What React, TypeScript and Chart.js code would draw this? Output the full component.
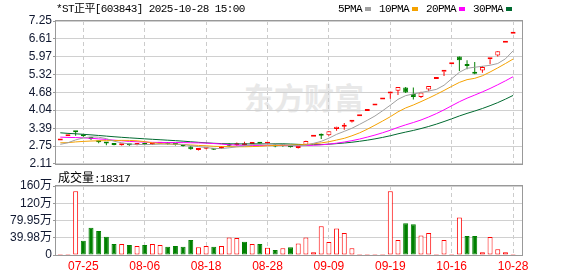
import React, { useEffect, useRef } from "react";
import Chart from "chart.js/auto";

// ---------- data ----------
const dates = ["07-22","07-23","07-24","07-25","07-28","07-29","07-30","07-31","08-01","08-04","08-05","08-06","08-07","08-08","08-11","08-12","08-13","08-14","08-15","08-18","08-19","08-20","08-21","08-22","08-25","08-26","08-27","08-28","08-29","09-01","09-02","09-03","09-04","09-05","09-08","09-09","09-10","09-11","09-12","09-15","09-16","09-17","09-18","09-19","09-22","09-23","09-24","09-25","09-26","09-29","09-30","10-16","10-17","10-20","10-21","10-22","10-23","10-24","10-27","10-28"];

const opens = [2.95,3.10,3.26,3.12,3.03,2.90,2.85,2.81,2.78,2.80,2.79,2.82,2.80,2.83,2.85,2.82,2.77,2.73,2.61,2.65,2.65,2.66,2.81,2.78,2.78,2.82,2.86,2.83,2.80,2.79,2.75,2.68,2.80,3.08,3.15,3.14,3.36,3.44,3.62,3.82,4.01,4.21,4.42,4.64,4.74,4.86,4.62,4.51,4.78,5.16,5.42,5.69,5.97,5.66,5.39,5.47,5.87,6.01,6.47,6.79];
const highs = [2.95,3.10,3.26,3.14,3.05,2.94,2.88,2.84,2.82,2.81,2.84,2.83,2.85,2.88,2.86,2.83,2.78,2.74,2.66,2.68,2.66,2.75,2.86,2.88,2.90,2.88,2.87,2.86,2.81,2.80,2.76,2.76,2.94,3.08,3.20,3.28,3.44,3.58,3.64,3.82,4.01,4.21,4.42,4.64,4.87,4.87,4.86,4.70,4.91,5.16,5.42,5.69,5.97,5.84,5.77,5.63,5.87,6.16,6.47,6.79];
const lows = [2.95,3.10,3.12,3.08,2.97,2.85,2.78,2.78,2.77,2.76,2.78,2.78,2.79,2.82,2.80,2.77,2.73,2.62,2.59,2.63,2.61,2.64,2.72,2.76,2.77,2.81,2.81,2.81,2.71,2.72,2.70,2.66,2.79,3.08,3.00,3.12,3.30,3.34,3.60,3.82,4.01,4.21,4.42,4.45,4.59,4.66,4.42,4.48,4.72,5.16,5.27,5.69,5.45,5.51,5.33,5.39,5.69,5.97,6.47,6.79];
const closes = [2.95,3.10,3.25,3.10,3.00,2.89,2.84,2.79,2.81,2.78,2.82,2.80,2.83,2.85,2.82,2.79,2.74,2.63,2.65,2.67,2.62,2.73,2.76,2.83,2.81,2.86,2.83,2.85,2.73,2.76,2.71,2.75,2.93,3.08,3.12,3.28,3.44,3.47,3.64,3.82,4.01,4.21,4.42,4.64,4.87,4.68,4.51,4.68,4.91,5.16,5.42,5.69,5.84,5.63,5.35,5.59,5.87,6.16,6.47,6.79];
// volume in 万 (10k shares)
const volumes = [1.5,1.5,147.7,33,63,55.4,42.3,25.4,25.4,23,20.8,23,25.4,23,19.2,20.8,19.2,34.6,17.7,20.8,19.2,20.8,40.8,39.2,30.8,25.4,25.4,16.9,11.5,15.4,17.7,26.9,40.8,6.2,66.9,30,61.5,50.8,15.4,1.5,1.5,1.5,1.5,147.7,34.6,73.8,71.5,45.4,50.8,1.5,34.6,1.5,86.9,43.8,43.8,6.2,41.5,13.1,6.2,1.83];
// closes of the 29 sessions before the window (needed for the moving averages)
const priorCloses = [3.72,3.70,3.65,3.60,3.56,3.52,3.48,3.42,3.35,3.36,3.34,3.33,3.32,3.31,3.30,3.28,3.27,3.25,3.23,3.12,3.05,2.98,2.92,2.86,2.80,2.80,2.75,2.74,2.81];

const priceTicks = [2.11, 2.75, 3.39, 4.04, 4.68, 5.32, 5.97, 6.61, 7.25];
const volumeTicks = [0, 39.98, 79.95, 119.93, 159.9];
const volumeTickLabels = ["0", "39.98万", "79.95万", "120万", "160万"];
const maPeriods = [5, 10, 20, 30];
const maNames = ["5PMA", "10PMA", "20PMA", "30PMA"];
const titleText = "*ST正平[603843] 2025-10-28 15:00";
const volumeTitle = "成交量";
const lastVolume = "18317";
const watermark = "东方财富";

// ---------- styles ----------
const RED = "#ff0000";
const GREEN = "#008000";
const maColors = ["#a0a0a0", "#f5a200", "#ff00ff", "#006a30"];
const X_MIN = 0.44;
const X_MAX = 61.16;
const AXIS_FONT = { family: '"Liberation Sans", Arial, "Noto Sans CJK SC", sans-serif', size: 12 };
const MONO = '"Liberation Mono", "DejaVu Sans Mono", "Noto Sans CJK SC", monospace';

function movingAverage(n: number): number[] {
  const all = priorCloses.concat(closes);
  const off = priorCloses.length;
  return closes.map((_, i) => {
    let s = 0;
    for (let k = off + i - n + 1; k <= off + i; k++) s += all[k];
    return s / n;
  });
}

const framePlugin = {
  id: "frame",
  afterDatasetsDraw(chart: any) {
    const { ctx, chartArea: a } = chart;
    ctx.save();
    ctx.strokeStyle = "#999999";
    ctx.lineWidth = 1;
    ctx.strokeRect(
      Math.round(a.left) - 0.5,
      Math.round(a.top) - 0.5,
      Math.round(a.right - a.left) + 1,
      Math.round(a.bottom - a.top) + 1
    );
    ctx.restore();
  },
};

function xScale(showLabels: boolean) {
  const labelIdx = dates.map((_, i) => i).filter((i) => i % 8 === 3);
  return {
    type: "linear",
    min: X_MIN,
    max: X_MAX,
    offset: false,
    afterBuildTicks: (axis: any) => {
      axis.ticks = labelIdx.map((i) => ({ value: i + 1 }));
    },
    afterFit: (axis: any) => {
      axis.height = showLabels ? 21 : 0;
    },
    ticks: {
      display: showLabels,
      autoSkip: false,
      maxRotation: 0,
      padding: 4,
      color: RED,
      font: AXIS_FONT,
      callback: (v: any) => dates[Number(v) - 1],
    },
    grid: { color: "#cccccc", lineWidth: 1, drawTicks: false, offset: false },
    border: { display: false, dash: [4, 3] },
  };
}

export default function App() {
  const priceRef = useRef<HTMLCanvasElement>(null);
  const volRef = useRef<HTMLCanvasElement>(null);

  useEffect(() => {
    const prevClose = (i: number) => (i ? closes[i - 1] : priorCloses[priorCloses.length - 1]);
    const candleUp = closes.map((c, i) => c > opens[i] || (c === opens[i] && c >= prevClose(i)));
    const volUp = closes.map((c, i) => c >= prevClose(i));

    const priceChart = new Chart(priceRef.current as HTMLCanvasElement, {
      type: "bar",
      data: {
        datasets: [
          ...maPeriods.map((n, k) => ({
            type: "line",
            label: maNames[k],
            data: movingAverage(n).map((v, i) => ({ x: i + 1, y: v })),
            borderColor: maColors[k],
            borderWidth: 1,
            pointRadius: 0,
            tension: 0,
            order: 1,
          })),
          {
            type: "bar",
            label: "K",
            data: closes.map((c, i) => ({ x: i + 1, y: [opens[i], c] })),
            backgroundColor: candleUp.map((u) => (u ? "#ffffff" : GREEN)),
            borderColor: candleUp.map((u) => (u ? RED : GREEN)),
            borderWidth: 1,
            borderSkipped: false,
            barThickness: 5,
            minBarLength: 2,
            grouped: false,
            inflateAmount: 0,
            order: 2,
          },
          {
            type: "bar",
            label: "wick",
            data: closes.map((_, i) => ({ x: i + 1, y: [lows[i], highs[i]] })),
            backgroundColor: candleUp.map((u) => (u ? RED : GREEN)),
            borderWidth: 0,
            barThickness: 1,
            grouped: false,
            inflateAmount: 0,
            order: 3,
          },
        ] as any,
      },
      options: {
        animation: false,
        responsive: false,
        devicePixelRatio: 1,
        events: [],
        layout: { padding: { left: 0, right: 56, top: 21, bottom: 7 } },
        plugins: { legend: { display: false }, tooltip: { enabled: false } },
        scales: {
          x: xScale(false) as any,
          y: {
            type: "linear",
            position: "left",
            min: 2.11,
            max: 7.25,
            afterBuildTicks: (axis: any) => {
              axis.ticks = priceTicks.map((v) => ({ value: v }));
            },
            afterFit: (axis: any) => {
              axis.width = 56;
            },
            ticks: {
              autoSkip: false,
              padding: 1,
              color: "#101830",
              font: AXIS_FONT,
              callback: (v: any) => Number(v).toFixed(2),
            },
            grid: { color: "#d0d0d0", lineWidth: 1, tickLength: 3, tickColor: "#999999" },
            border: { display: false },
          },
        },
      },
      plugins: [framePlugin],
    } as any);

    const volChart = new Chart(volRef.current as HTMLCanvasElement, {
      type: "bar",
      data: {
        datasets: [
          {
            label: "成交量",
            data: volumes.map((v, i) => ({ x: i + 1, y: v })),
            backgroundColor: volUp.map((u) => (u ? "#ffffff" : GREEN)),
            borderColor: volUp.map((u) => (u ? RED : GREEN)),
            borderWidth: 1,
            borderSkipped: false,
            barThickness: 5,
            minBarLength: 1,
            grouped: false,
            inflateAmount: 0,
          },
        ] as any,
      },
      options: {
        animation: false,
        responsive: false,
        devicePixelRatio: 1,
        events: [],
        layout: { padding: { left: 0, right: 56, top: 14, bottom: 0 } },
        plugins: { legend: { display: false }, tooltip: { enabled: false } },
        scales: {
          x: xScale(true) as any,
          y: {
            type: "linear",
            position: "left",
            min: 0,
            max: 159.9,
            afterBuildTicks: (axis: any) => {
              axis.ticks = volumeTicks.map((v) => ({ value: v }));
            },
            afterFit: (axis: any) => {
              axis.width = 56;
            },
            ticks: {
              autoSkip: false,
              padding: 1,
              color: "#101830",
              font: AXIS_FONT,
              callback: (_v: any, i: number) => volumeTickLabels[i],
            },
            grid: { color: "#d0d0d0", lineWidth: 1, tickLength: 3, tickColor: "#999999" },
            border: { display: false },
          },
        },
      },
      plugins: [framePlugin],
    } as any);

    return () => {
      priceChart.destroy();
      volChart.destroy();
    };
  }, []);

  const monoText: React.CSSProperties = {
    fontFamily: MONO,
    fontSize: 11,
    letterSpacing: "-0.6px",
    lineHeight: "14px",
    color: "#000",
    whiteSpace: "nowrap",
  };

  return (
    <div style={{ position: "absolute", left: 0, top: 0, width: 578, height: 276, background: "#fff", overflow: "hidden" }}>
      <div
        style={{
          position: "absolute",
          left: 244,
          top: 78,
          fontFamily: '"Noto Sans CJK SC", sans-serif',
          fontWeight: 700,
          fontSize: 30,
          lineHeight: "36px",
          color: "#e8e8e8",
          whiteSpace: "nowrap",
          zIndex: 0,
        }}
      >
        {watermark}
      </div>
      <canvas ref={priceRef} width={578} height={172} style={{ position: "absolute", left: 0, top: 0, zIndex: 1 }} />
      <canvas ref={volRef} width={578} height={104} style={{ position: "absolute", left: 0, top: 172, zIndex: 1 }} />
      <div style={{ ...monoText, position: "absolute", left: 56, top: 2, zIndex: 2 }}>{titleText}</div>
      <div style={{ position: "absolute", left: 338, top: 2, display: "flex", gap: 8, zIndex: 2 }}>
        {maNames.map((n, k) => (
          <div key={n} style={{ display: "flex", alignItems: "center" }}>
            <span style={monoText}>{n}</span>
            <span style={{ display: "inline-block", width: 6, height: 4, marginLeft: 3, background: maColors[k] }} />
          </div>
        ))}
      </div>
      <div style={{ position: "absolute", left: 58, top: 170, zIndex: 2, whiteSpace: "nowrap", lineHeight: "14px" }}>
        <span style={{ fontFamily: '"Noto Sans CJK SC", sans-serif', fontSize: 12, color: "#000" }}>{volumeTitle}</span>
        <span style={monoText}>{":" + lastVolume}</span>
      </div>
    </div>
  );
}
